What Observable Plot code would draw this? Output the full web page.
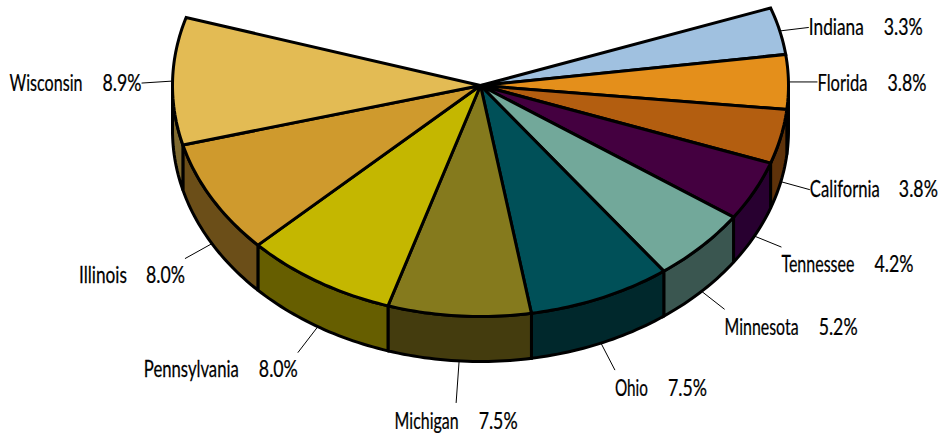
<!DOCTYPE html>
<html>
<head>
<meta charset="utf-8">
<script src="https://cdn.jsdelivr.net/npm/d3@7"></script>
<script src="https://cdn.jsdelivr.net/npm/@observablehq/plot@0.6"></script>
<style>html,body{margin:0;padding:0;background:#fff}svg{display:block}</style>
</head>
<body>
<div id="chart"></div>
<script>
// Data
const states = ["Indiana","Florida","California","Tennessee","Minnesota","Ohio","Michigan","Pennsylvania","Illinois","Wisconsin"];
const shares = [3.3,3.8,3.8,4.2,5.2,7.5,7.5,8.0,8.0,8.9];
const topColors = ["#a0c1e0","#e48f1b","#b35e10","#440040","#72a89a","#005058","#857a1d","#c4b700","#cf9a2d","#e3bb54"];
const wallColors = ["#506070","#72480e","#5e320a","#280030","#3a5650","#00282c","#443c0e","#665e00","#6b4e18","#7f6a30"];

// Layout (not data)
const leaderDx = [29,29,29,27,23,14,-3,-20,-27,-31];
const leaderDy = [-3.5,0,8,11,18,27,42,26,15,2];
const labelDy = [-0.5,1,-0.5,17,18,18,18,17,17,0];
const labelWidth = [114,109,128,132,133,92,123,154,106,132];
const nameWidth = [55,50,70,73,74,33,64,95,48,73];
const percentWidth = 39;
const labelAnchor = [0,0,0,0,0,0,0.5,1,1,1]; // fraction of the label lying left of the leader's end
const cx = 480, cy = 85, rx = 308, ry = 231, depth = 45, startAngle = -19.6;
const rad = d => d * Math.PI / 180;
const px = a => cx + rx * Math.cos(rad(a));
const py = a => cy + ry * Math.sin(rad(a));

// Slice geometry derived from the shares
let acc = startAngle;
const slices = states.map((name, i) => {
  const a0 = acc, a1 = acc + shares[i] * 3.6;
  acc = a1;
  return {name, share: shares[i], top: topColors[i], wall: wallColors[i], a0, a1, mid: (a0 + a1) / 2};
});
const arc = (a0, a1) => {
  const n = Math.max(2, Math.ceil(Math.abs(a1 - a0)));
  return d3.range(n + 1).map(j => a0 + (a1 - a0) * j / n);
};
const topPts = [], wallPts = [];
for (const s of slices) {
  const ring = [{x: cx, y: cy}, ...arc(s.a0, s.a1).map(a => ({x: px(a), y: py(a)}))];
  for (const p of [...ring, ring[0], ring[1]]) topPts.push({...p, name: s.name, fill: s.top});
  const w0 = Math.max(s.a0, 0), w1 = Math.min(s.a1, 180);
  if (w1 > w0) {
    const as = arc(w0, w1);
    const r = [...as.map(a => ({x: px(a), y: py(a)})), ...as.slice().reverse().map(a => ({x: px(a), y: py(a) + depth}))];
    for (const p of [...r, r[0]]) wallPts.push({...p, name: s.name, fill: s.wall});
  }
}
const leaders = slices.map((s, i) => {
  const lift = (s.mid > 0 && s.mid < 180) ? depth : 0;
  const x1 = px(s.mid), y1 = py(s.mid) + lift;
  const x2 = x1 + leaderDx[i], y2 = y1 + leaderDy[i];
  const left = x2 - labelAnchor[i] * labelWidth[i];
  return {x1, y1, x2, y2, left, right: left + labelWidth[i], ly: y2 + labelDy[i],
          name: s.name, pct: `${s.share.toFixed(1)}%`};
});

const lineOpts = {x: "x", y: "y", z: "name", fill: "fill", stroke: "#000", strokeWidth: 3,
                  strokeLinejoin: "miter", strokeMiterlimit: 2, curve: "linear"};
const textOpts = {y: "ly", fill: "#000", stroke: "#000", strokeWidth: 0.25,
                  fontFamily: "Lato, sans-serif", fontSize: 24};

const plot = Plot.plot({
  width: 942, height: 435, margin: 0,
  x: {domain: [0, 942], range: [0, 942], axis: null},
  y: {domain: [0, 435], range: [0, 435], axis: null},
  marks: [
    Plot.link(leaders, {x1: "x1", y1: "y1", x2: "x2", y2: "y2", stroke: "#000", strokeWidth: 1}),
    Plot.line(wallPts, lineOpts),
    Plot.line(topPts, lineOpts),
    Plot.text(leaders, {...textOpts, x: "left", text: "name", textAnchor: "start"}),
    Plot.text(leaders, {...textOpts, x: "right", text: "pct", textAnchor: "end"})
  ]
});
document.getElementById("chart").append(plot);
// Condense the label glyphs horizontally to the reference's narrow label widths
const widthOf = new Map(states.map((n, i) => [n, nameWidth[i]]));
const condense = () => d3.select(plot).selectAll("text").each(function () {
  const t = this.textContent;
  const w = t.endsWith("%") ? percentWidth : widthOf.get(t);
  if (!w) return;
  const base = this.dataset.base ?? (this.dataset.base = this.getAttribute("transform") || "");
  this.setAttribute("transform", `${base} scale(${w / this.getComputedTextLength()},1)`);
});
condense();
</script>
</body>
</html>
